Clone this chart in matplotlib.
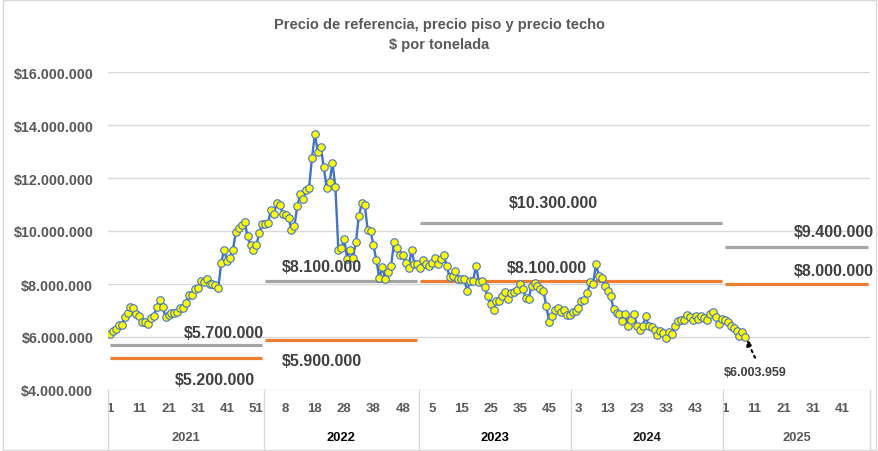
import numpy as np
import matplotlib
matplotlib.use("Agg")
import matplotlib.pyplot as plt
from matplotlib.patches import Rectangle

plt.rcParams['font.family'] = ['Liberation Sans', 'DejaVu Sans']

# weeks per year on the category axis
anios = [2021, 2022, 2023, 2024, 2025]
semanas = [53, 53, 52, 52, 50]

# reference price, millions of $ per tonne (weekly)
precio_2021 = [6.10, 6.22, 6.30, 6.44, 6.44, 6.75, 6.90, 7.15, 7.10, 6.85,
               6.80, 6.56, 6.57, 6.48, 6.70, 6.80, 7.15, 7.40, 7.14, 6.75,
               6.83, 6.90, 6.90, 6.95, 7.10, 7.10, 7.30, 7.57, 7.57, 7.80,
               7.85, 8.10, 8.08, 8.20, 8.00, 8.00, 7.95, 7.85, 8.80, 9.30,
               8.85, 9.00, 9.30, 9.95, 10.10, 10.22, 10.35, 9.80, 9.47, 9.30,
               9.47, 9.92, 10.26]
precio_2022 = [10.28, 10.30, 10.81, 10.66, 11.06, 11.00, 10.66, 10.60, 10.50, 10.05,
               10.20, 10.95, 11.40, 11.20, 11.55, 11.63, 12.77, 13.66, 12.97, 13.18,
               12.42, 11.63, 11.86, 12.56, 11.65, 9.30, 9.35, 9.68, 8.95, 9.30,
               8.99, 9.58, 10.57, 11.04, 11.00, 10.05, 10.00, 9.46, 8.89, 8.22,
               8.63, 8.19, 8.44, 8.67, 9.58, 9.35, 9.08, 9.11, 8.78, 8.59,
               9.30, 8.76, 8.75]
precio_2023 = [8.59, 8.92, 8.75, 8.67, 8.79, 8.97, 8.75, 8.94, 9.09, 8.69,
               8.25, 8.29, 8.48, 8.19, 8.19, 8.19, 7.72, 8.13, 8.10, 8.69,
               8.09, 8.10, 7.87, 7.53, 7.25, 7.03, 7.37, 7.37, 7.56, 7.71,
               7.43, 7.66, 7.69, 7.79, 8.00, 7.81, 7.46, 7.43, 7.94, 8.04,
               7.91, 7.81, 7.75, 7.18, 6.58, 6.80, 7.03, 7.08, 6.96, 7.03,
               6.83, 6.83]
precio_2024 = [6.93, 6.98, 7.08, 7.35, 7.41, 7.66, 8.06, 8.00, 8.75, 8.31,
               8.21, 7.91, 7.75, 7.54, 7.06, 6.91, 6.88, 6.59, 6.88, 6.41,
               6.66, 6.88, 6.41, 6.25, 6.41, 6.79, 6.41, 6.38, 6.28, 6.06,
               6.21, 6.16, 5.96, 6.19, 6.13, 6.41, 6.59, 6.66, 6.66, 6.84,
               6.75, 6.66, 6.81, 6.69, 6.81, 6.71, 6.63, 6.86, 6.96, 6.75,
               6.50, 6.69]
precio_2025 = [6.63, 6.56, 6.41, 6.34, 6.21, 6.04, 6.19, 6.003959]

# floor / ceiling price bands: (first year, last year, value in millions)
techo = [(2021, 2021, 5.7), (2022, 2022, 8.1), (2023, 2024, 10.3), (2025, 2025, 9.4)]
piso = [(2021, 2021, 5.2), (2022, 2022, 5.9), (2023, 2024, 8.1), (2025, 2025, 8.0)]

GRIS_TXT = '#595959'
ETIQ = '#404040'

precio = np.array(precio_2021 + precio_2022 + precio_2023 + precio_2024 + precio_2025) * 1e6
x = np.arange(1, len(precio) + 1)
inicio = np.cumsum([0] + semanas[:-1]) + 1  # first category of each year
fin = np.cumsum(semanas)                    # last category of each year
n_total = int(fin[-1])

fig = plt.figure(figsize=(8.79, 4.52), dpi=100)
fig.patches.append(Rectangle((0.003, 0.003), 0.994, 0.994, transform=fig.transFigure,
                             fill=False, edgecolor='#D9D9D9', lw=1))
ax = fig.add_axes([108.5 / 879, 61 / 452, n_total * 2.928 / 879, 318 / 452])
ax.set_xlim(0.5, n_total + 0.5)
ax.set_ylim(4e6, 16e6)
for s in ax.spines.values():
    s.set_visible(False)
ax.set_yticks(np.arange(4e6, 16e6 + 1, 2e6))
ax.set_yticklabels(['$' + f'{v:,.0f}'.replace(',', '.') for v in ax.get_yticks()],
                   fontsize=10.3, fontweight='bold', color=GRIS_TXT)
ax.yaxis.grid(True, color='#D9D9D9', lw=1)
ax.set_axisbelow(True)
ax.tick_params(axis='y', length=0, pad=11)

# week-number ticks every 10 categories
ticks = np.arange(1, n_total + 1, 10)
semana_de = np.concatenate([np.arange(1, n + 1) for n in semanas])
ax.set_xticks(ticks)
ax.set_xticklabels([str(semana_de[t - 1]) for t in ticks], fontsize=9.5,
                   fontweight='bold', color=GRIS_TXT)
ax.tick_params(axis='x', length=0, pad=9)

trans = ax.get_xaxis_transform()
bordes = [inicio[0] - 0.5] + list(fin + 0.5)
for b in bordes:
    ax.plot([b, b], [0, -0.2], transform=trans, color='#D9D9D9', lw=1, clip_on=False)
colores_anio = [GRIS_TXT, '#000000', '#000000', '#1a1a1a', GRIS_TXT]
for a, i0, i1, c in zip(anios, inicio, fin, colores_anio):
    ax.text((i0 + i1) / 2, -0.148, str(a), transform=trans, ha='center', va='center',
            fontsize=9.3, fontweight='bold', color=c)

# price bands
def tramo(a0, a1):
    return inicio[anios.index(a0)], fin[anios.index(a1)]

for a0, a1, v in techo:
    i0, i1 = tramo(a0, a1)
    ax.plot([i0, i1], [v * 1e6, v * 1e6], color='#A5A5A5', lw=2.3, solid_capstyle='butt')
for a0, a1, v in piso:
    i0, i1 = tramo(a0, a1)
    ax.plot([i0, i1], [v * 1e6, v * 1e6], color='#ED7D31', lw=2.3, solid_capstyle='butt')

ax.plot(x, precio, color='#4472C4', lw=1.7, marker='o', markersize=5.4,
        markerfacecolor='#FFFF00', markeredgecolor='#4472C4', markeredgewidth=0.8, zorder=3)

def fmt(v):
    return '$' + f'{v * 1e6:,.0f}'.replace(',', '.')

# band value labels (position along segment, vertical offset in points)
pos_techo = [(0.75, 9), (0.37, 11), (0.44, 15), (None, 11)]
pos_piso = [(0.69, -15), (0.37, -15), (0.42, 10), (None, 10)]
for (a0, a1, v), (f, dy) in list(zip(techo, pos_techo)) + list(zip(piso, pos_piso)):
    i0, i1 = tramo(a0, a1)
    if f is None:
        ax.annotate(fmt(v), (n_total + 0.5, v * 1e6), xytext=(3, dy), textcoords='offset points',
                    ha='right', va='center', fontsize=11.5, fontweight='bold', color=ETIQ,
                    annotation_clip=False)
    else:
        ax.annotate(fmt(v), (i0 + f * (i1 - i0), v * 1e6), xytext=(0, dy),
                    textcoords='offset points', ha='center', va='center', fontsize=11.5,
                    fontweight='bold', color=ETIQ)

# last value callout
ax.annotate('', (x[-1], precio[-1]), xytext=(7, -15), textcoords='offset points',
            arrowprops=dict(arrowstyle='-|>', color='black', lw=1.5, linestyle=(0, (1, 2)),
                            shrinkA=0, shrinkB=2, mutation_scale=9))
ax.annotate(fmt(precio[-1] / 1e6), (x[-1], precio[-1]), xytext=(7, -25),
            textcoords='offset points', ha='center', va='center', fontsize=9,
            fontweight='bold', color=ETIQ)

fig.text(0.5, 1 - 25 / 452, 'Precio de referencia, precio piso y precio techo',
         ha='center', va='center', fontsize=10.5, fontweight='bold', color=GRIS_TXT)
fig.text(0.5, 1 - 45 / 452, '$ por tonelada', ha='center', va='center',
         fontsize=10.5, fontweight='bold', color=GRIS_TXT)

fig.savefig('out.png', dpi=100)
